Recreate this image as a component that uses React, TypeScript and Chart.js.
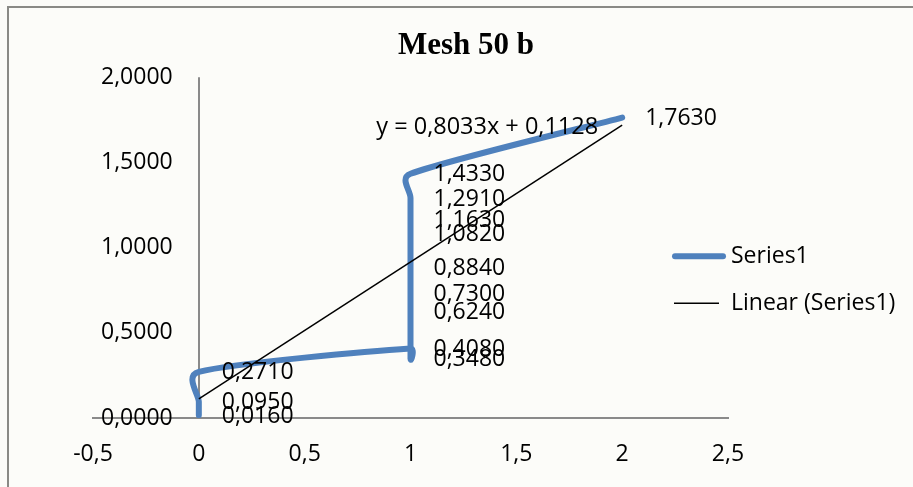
import { useEffect, useRef } from 'react';
import { Chart, registerables } from 'chart.js';

Chart.register(...registerables);

const TITLE = 'Mesh 50 b';
const SERIES_NAME = 'Series1';
const TREND_NAME = 'Linear (Series1)';

// Data points in series order
const X_VALUES = [0, 0, 0, 1, 1, 1, 1, 1, 1, 1, 1, 1, 2];
const Y_VALUES = [0.016, 0.095, 0.271, 0.408, 0.348, 0.624, 0.73, 0.884, 1.082, 1.163, 1.291, 1.433, 1.763];

// Linear trendline (from the equation shown on the chart)
const TREND_SLOPE = 0.8033;
const TREND_INTERCEPT = 0.1128;
const TREND_X = [0, 2];

const X_MIN = -0.5;
const X_MAX = 2.5;
const X_STEP = 0.5;
const Y_MIN = 0;
const Y_MAX = 2;
const Y_STEP = 0.5;

const BLUE = '#4F81BD';
const AXIS_GRAY = '#8a8a8a';
const FONT = "'Open Sans', 'DejaVu Sans', sans-serif";
const FONT_SIZE = 23;

const fmt4 = (v: number) => v.toFixed(4).replace('.', ',');
const fmtX = (v: number) => (Number.isInteger(v) ? String(v) : v.toFixed(1).replace('.', ','));

// Excel-like smoothing: Catmull-Rom (1/6) control points, limited to half of each adjacent segment
const smoothPlugin = {
  id: 'excelSmooth',
  beforeDatasetDraw(chart: any, args: any) {
    if (args.index !== 0) return;
    const meta = args.meta;
    const line = meta.dataset;
    const pts = meta.data;
    if (line && typeof line.updateControlPoints === 'function') line.updateControlPoints(chart.chartArea, 'x');
    const n = pts.length;
    for (let i = 0; i < n; i++) {
      const p = pts[i];
      const prev = pts[Math.max(0, i - 1)];
      const next = pts[Math.min(n - 1, i + 1)];
      const vx = (next.x - prev.x) / 6;
      const vy = (next.y - prev.y) / 6;
      const vl = Math.hypot(vx, vy);
      const lPrev = Math.hypot(p.x - prev.x, p.y - prev.y);
      const lNext = Math.hypot(next.x - p.x, next.y - p.y);
      const sPrev = vl > 0 ? Math.min(1, (0.5 * lPrev) / vl) : 0;
      const sNext = vl > 0 ? Math.min(1, (0.5 * lNext) / vl) : 0;
      p.cp1x = p.x - vx * sPrev;
      p.cp1y = p.y - vy * sPrev;
      p.cp2x = p.x + vx * sNext;
      p.cp2y = p.y + vy * sNext;
    }
    if (line) line._path = undefined;
  },
};

const overlayPlugin = {
  id: 'overlay',
  afterDatasetsDraw(chart: any) {
    const ctx = chart.ctx as CanvasRenderingContext2D;
    const xs = chart.scales.x;
    const ys = chart.scales.y;
    const ca = chart.chartArea;
    ctx.save();
    ctx.fillStyle = '#000';
    ctx.font = `${FONT_SIZE}px ${FONT}`;
    ctx.textBaseline = 'middle';
    ctx.textAlign = 'left';
    // data labels
    X_VALUES.forEach((xv, i) => {
      const px = xs.getPixelForValue(xv);
      const py = ys.getPixelForValue(Y_VALUES[i]);
      ctx.fillText(fmt4(Y_VALUES[i]), px + 23, py + 1);
    });
    // trendline equation
    const endX = TREND_X[TREND_X.length - 1];
    const ex = xs.getPixelForValue(endX);
    const ey = ys.getPixelForValue(TREND_SLOPE * endX + TREND_INTERCEPT);
    ctx.textAlign = 'right';
    ctx.font = `23.5px ${FONT}`;
    ctx.fillText(`y = ${fmt4(TREND_SLOPE)}x + ${fmt4(TREND_INTERCEPT)}`, ex - 24, ey + 2);
    ctx.font = `${FONT_SIZE}px ${FONT}`;

    // legend
    const lx0 = ca.right - 55;
    const lx1 = ca.right - 3;
    const tx = ca.right + 3;
    const y1 = ca.top + 179;
    const y2 = ca.top + 226;
    ctx.lineCap = 'round';
    ctx.strokeStyle = BLUE;
    ctx.lineWidth = 6;
    ctx.beginPath();
    ctx.moveTo(lx0 + 2, y1);
    ctx.lineTo(lx1 - 2, y1);
    ctx.stroke();
    ctx.lineCap = 'butt';
    ctx.strokeStyle = '#000';
    ctx.lineWidth = 1.5;
    ctx.beginPath();
    ctx.moveTo(lx0 + 1, y2);
    ctx.lineTo(lx1 - 6, y2);
    ctx.stroke();
    ctx.textAlign = 'left';
    ctx.fillText(SERIES_NAME, tx, y1);
    ctx.fillText(TREND_NAME, tx, y2);
    ctx.restore();
  },
};

export default function App() {
  const ref = useRef<HTMLCanvasElement>(null);
  useEffect(() => {
    const canvas = ref.current!;
    const chart = new Chart(canvas, {
      type: 'scatter',
      data: {
        datasets: [
          {
            label: SERIES_NAME,
            data: X_VALUES.map((x, i) => ({ x, y: Y_VALUES[i] })),
            showLine: true,
            borderColor: BLUE,
            backgroundColor: BLUE,
            borderWidth: 6,
            tension: 0.3,
            pointRadius: 0,
            borderCapStyle: 'round',
            borderJoinStyle: 'round',
            order: 2,
          } as any,
          {
            label: TREND_NAME,
            data: TREND_X.map((x) => ({ x, y: TREND_SLOPE * x + TREND_INTERCEPT })),
            showLine: true,
            borderColor: '#000',
            backgroundColor: '#000',
            borderWidth: 1.5,
            tension: 0,
            pointRadius: 0,
            order: 1,
          } as any,
        ],
      },
      options: {
        responsive: false,
        animation: false,
        events: [],
        layout: { padding: { left: 19, right: 0, top: 0, bottom: 0 } },
        plugins: {
          legend: { display: false },
          tooltip: { enabled: false },
          title: {
            display: true,
            text: TITLE,
            color: '#000',
            font: { family: "'Liberation Serif', 'Times New Roman', serif", size: 31, weight: 'bold', lineHeight: 1.2 },
            padding: { top: 27, bottom: 13 },
          },
        },
        scales: {
          x: {
            type: 'linear',
            position: 'bottom',
            min: X_MIN,
            max: X_MAX,
            grid: {
              display: true,
              drawTicks: false,
              lineWidth: 2,
              color: (c: any) => (c.tick && c.tick.value === 0 ? AXIS_GRAY : 'rgba(0,0,0,0)'),
            },
            border: { display: true, color: AXIS_GRAY, width: 2 },
            ticks: {
              stepSize: X_STEP,
              color: '#000',
              padding: 23,
              maxRotation: 0,
              font: { family: FONT, size: FONT_SIZE, lineHeight: 1.2 },
              callback: (v: any) => fmtX(Number(v)),
            },
            afterFit: (s: any) => {
              s.height = 69;
            },
          },
          y: {
            type: 'linear',
            position: 'left',
            min: Y_MIN,
            max: Y_MAX,
            grid: { display: false },
            border: { display: false },
            ticks: {
              stepSize: Y_STEP,
              mirror: true,
              padding: 8,
              color: '#000',
              font: { family: FONT, size: FONT_SIZE, lineHeight: 1.2 },
              callback: (v: any) => fmt4(Number(v)),
            },
            afterFit: (s: any) => {
              s.width = 74;
            },
          },
          y2: {
            type: 'linear',
            position: 'right',
            display: true,
            grid: { display: false },
            border: { display: false },
            ticks: { display: false },
            afterFit: (s: any) => {
              s.width = 185;
            },
          },
        },
      },
      plugins: [smoothPlugin, overlayPlugin],
    });
    return () => chart.destroy();
  }, []);

  return (
    <div style={{ position: 'fixed', left: 0, top: 0, width: 913, height: 487, background: '#fcfcf9', overflow: 'hidden' }}>
      <canvas ref={ref} width={913} height={487} style={{ display: 'block', width: 913, height: 487 }} />
      <div
        style={{
          position: 'absolute',
          left: 7,
          top: 6,
          width: 2000,
          height: 2000,
          borderLeft: '2px solid #8a8a86',
          borderTop: '2px solid #8a8a86',
          pointerEvents: 'none',
        }}
      />
    </div>
  );
}
